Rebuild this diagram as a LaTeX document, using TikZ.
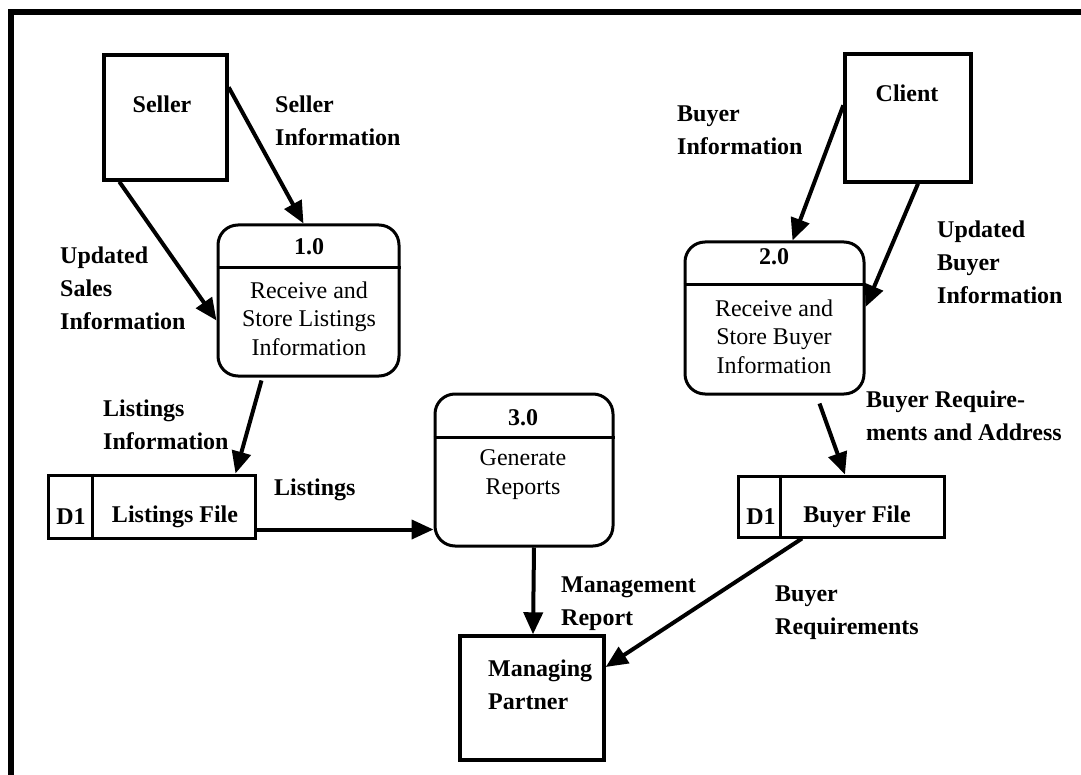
\documentclass[tikz,border=0pt]{standalone}
\usepackage{fontspec}
\setmainfont{Liberation Serif}
\usetikzlibrary{arrows.meta, positioning}

\begin{document}
\begin{tikzpicture}[
    x=1pt, y=-1pt,
    entity/.style={draw, line width=3.4pt, inner sep=0pt},
    procbox/.style={draw, line width=3pt, rounded corners=20pt, inner sep=0pt},
    storebox/.style={draw, line width=3pt, inner sep=0pt},
    flowlabel/.style={inner sep=0pt, align=left, anchor=west, font=\fontsize{24}{33}\selectfont\bfseries},
    boxlabel/.style={inner sep=0pt, align=left, font=\fontsize{24}{33}\selectfont\bfseries},
    proctext/.style={inner sep=0pt, align=center, font=\fontsize{24}{28.5}\selectfont},
    flow/.style={line width=4pt, -{Triangle[length=22pt, width=19pt]}},
    ]
    \useasboundingbox (0,0) rectangle (1081,775);

    % frame (top and left only)
    \draw[line width=6pt] (11,775) -- (11,12) -- (1081,12);

    % external entities
    \node[entity, minimum width=123pt, minimum height=125pt] (seller) at (165.5,117.5) {};
    \node[boxlabel] (sellertxt) at (162,104) {Seller};
    \node[entity, minimum width=126pt, minimum height=128pt] (client) at (908,118) {};
    \node[boxlabel] (clienttxt) at (907,93) {Client};
    \node[entity, minimum width=144pt, minimum height=124pt] (partner) at (532,698) {};
    \node[boxlabel, anchor=west] (partnertxt) at (488,685) {Managing\\Partner};

    % processes
    \node[procbox, minimum width=181pt, minimum height=151pt] (p1) at (308.5,300.5) {};
    \draw[line width=3pt] ([yshift=-44pt]p1.north west) -- ([yshift=-44pt]p1.north east);
    \node[boxlabel] (p1num) at (309,247) {1.0};
    \node[proctext] (p1txt) at (309,318.5) {Receive and\\Store Listings\\Information};

    \node[procbox, minimum width=179pt, minimum height=152pt] (p2) at (774.5,318) {};
    \draw[line width=3pt] ([yshift=-44pt]p2.north west) -- ([yshift=-44pt]p2.north east);
    \node[boxlabel] (p2num) at (774,257) {2.0};
    \node[proctext] (p2txt) at (774,336.5) {Receive and\\Store Buyer\\Information};

    \node[procbox, minimum width=178pt, minimum height=152pt] (p3) at (524,470) {};
    \draw[line width=3pt] ([yshift=-45pt]p3.north west) -- ([yshift=-45pt]p3.north east);
    \node[boxlabel] (p3num) at (523,418) {3.0};
    \node[proctext] (p3txt) at (523,474.5) {Generate\\Reports};

    % data stores
    \node[storebox, minimum width=207pt, minimum height=63pt] (lfile) at (151.5,506.5) {};
    \draw[line width=3pt] ([xshift=46pt]lfile.north west) -- ([xshift=46pt]lfile.south west);
    \node[boxlabel] (lfileid) at (71,517) {D1};
    \node[boxlabel] (lfilename) at (175,517) {Listings File};

    \node[storebox, minimum width=206pt, minimum height=61pt] (bfile) at (841,506.5) {};
    \draw[line width=3pt] ([xshift=44pt]bfile.north west) -- ([xshift=44pt]bfile.south west);
    \node[boxlabel] (bfileid) at (761,517) {D1};
    \node[boxlabel] (bfilename) at (857,517) {Buyer File};

    % flows
    \draw[flow] ([yshift=-34pt]seller.north east) -- ([xshift=-5pt]p1.north);
    \draw[flow] ([xshift=17pt]seller.south west) -- ([yshift=-20pt]p1.west);
    \draw[flow] ([xshift=-47pt, yshift=-3pt]p1.south) -- ([xshift=-21pt]lfile.north east);
    \draw[flow] ([yshift=10pt]lfile.south east) coordinate (lst) -- (lst -| p3.west);
    \draw[flow] ([xshift=10pt]p3.south) -- ([xshift=1pt]partner.north);
    \draw[flow] ([yshift=-53pt]client.north west) -- ([xshift=18pt]p2.north);
    \draw[flow] ([xshift=10pt]client.south) -- ([yshift=11pt]p2.east);
    \draw[flow] ([xshift=45pt, yshift=-8pt]p2.south) -- ([xshift=4pt]bfile.north);
    \draw[flow] ([xshift=-39pt]bfile.south) -- ([yshift=31pt]partner.east);

    % flow labels
    \node[flowlabel] (lblsellerinfo) at (275,120.5) {Seller\\Information};
    \node[flowlabel] (lblsales) at (60,288.5) {Updated\\Sales\\Information};
    \node[flowlabel] (lbllistinfo) at (103,425) {Listings\\Information};
    \node[flowlabel] (lbllistings) at (274,490) {Listings};
    \node[flowlabel] (lblreport) at (561,604) {Management\\Report};
    \node[flowlabel] (lblbuyerinfo) at (677,130) {Buyer\\Information};
    \node[flowlabel] (lblupdbuyer) at (937,262.5) {Updated\\Buyer\\Information};
    \node[flowlabel] (lblbuyerreq) at (866,416) {Buyer Require-\\ments and Address};
    \node[flowlabel] (lblreqs) at (775,612.5) {Buyer\\Requirements};
\end{tikzpicture}
\end{document}
